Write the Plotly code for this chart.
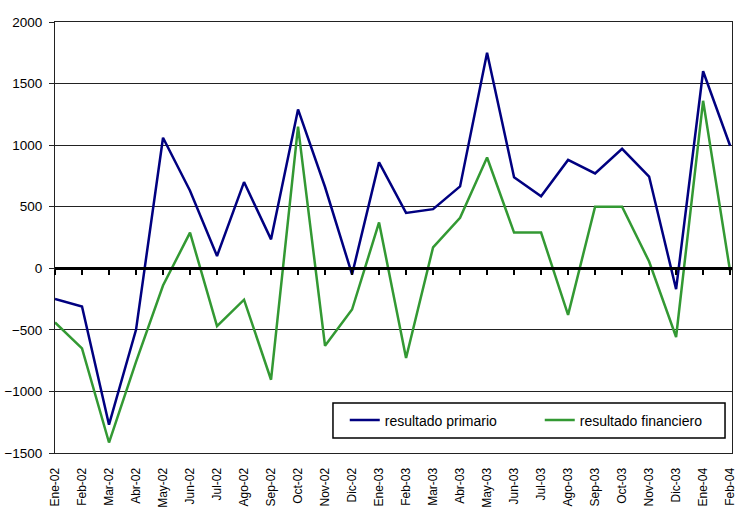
import plotly.graph_objects as go

meses = ["Ene-02","Feb-02","Mar-02","Abr-02","May-02","Jun-02","Jul-02","Ago-02","Sep-02","Oct-02","Nov-02","Dic-02",
         "Ene-03","Feb-03","Mar-03","Abr-03","May-03","Jun-03","Jul-03","Ago-03","Sep-03","Oct-03","Nov-03","Dic-03",
         "Ene-04","Feb-04"]
resultado_primario = [-250, -310, -1270, -500, 1060, 630, 100, 700, 235, 1290, 660, -50,
                      860, 450, 480, 665, 1750, 740, 585, 880, 770, 970, 745, -170,
                      1600, 995]
resultado_financiero = [-440, -650, -1415, -760, -140, 290, -470, -255, -905, 1150, -630, -335,
                        372, -728, 170, 410, 900, 290, 290, -378, 500, 500, 55, -558,
                        1360, -25]
y_ticks = [-1500, -1000, -500, 0, 500, 1000, 1500, 2000]

xs = list(range(len(meses)))
font = "Liberation Sans, Arial, sans-serif"

fig = go.Figure()
fig.add_trace(go.Scatter(x=xs, y=resultado_primario, mode="lines", name="resultado primario",
                         line=dict(color="#000080", width=2.5)))
fig.add_trace(go.Scatter(x=xs, y=resultado_financiero, mode="lines", name="resultado financiero",
                         line=dict(color="#339933", width=2.5)))

y0frac = (0 - (-1500)) / 3500.0
xr = [0, 25.07]

fig.update_layout(
    width=735, height=509,
    margin=dict(l=55, r=3, t=22, b=56, autoexpand=False),
    paper_bgcolor="white", plot_bgcolor="white",
    font=dict(family=font, size=12, color="black"),
    showlegend=True,
    legend=dict(orientation="h", x=0.428, y=0.0754, xanchor="left", yanchor="middle",
                borderwidth=0, bgcolor="rgba(0,0,0,0)",
                font=dict(family=font, size=14, color="black"),
                entrywidth=150, entrywidthmode="pixels", tracegroupgap=0),
    xaxis=dict(range=xr, tickmode="array", tickvals=xs, ticktext=meses, tickangle=-90,
               showgrid=False, zeroline=False, showline=True, linecolor="#222", linewidth=1,
               mirror=True, ticks="", ticklabeloverflow="allow", ticklabelstandoff=9,
               tickfont=dict(family=font, size=12, color="black")),
    xaxis2=dict(range=xr, overlaying="x", anchor="free", position=y0frac, side="bottom",
                tickmode="array", tickvals=xs, ticktext=[""] * len(xs), showticklabels=False,
                ticks="outside", ticklen=5, tickwidth=2, tickcolor="black",
                showline=True, linecolor="black", linewidth=2.5, showgrid=False, zeroline=False),
    yaxis=dict(range=[-1500, 2000], tickmode="array", tickvals=y_ticks,
               showgrid=True, gridcolor="#222", gridwidth=1, zeroline=False,
               showline=True, linecolor="#222", linewidth=1, mirror=True,
               ticks="outside", ticklen=5, tickcolor="#222", ticklabelstandoff=4,
               tickfont=dict(family=font, size=13.5, color="black")),
    shapes=[dict(type="rect", xref="paper", yref="paper", x0=0.4106, x1=0.9897, y0=0.0348, y1=0.116,
                 line=dict(color="black", width=1.5), fillcolor="white", layer="above")],
)
# dummy trace to activate xaxis2
fig.add_trace(go.Scatter(x=[0], y=[0], xaxis="x2", mode="markers", marker=dict(opacity=0),
                         showlegend=False, hoverinfo="skip"))

fig.write_html("out.html", config={"displayModeBar": False},
               post_script="document.body.style.margin='0';document.body.style.overflow='hidden';")
